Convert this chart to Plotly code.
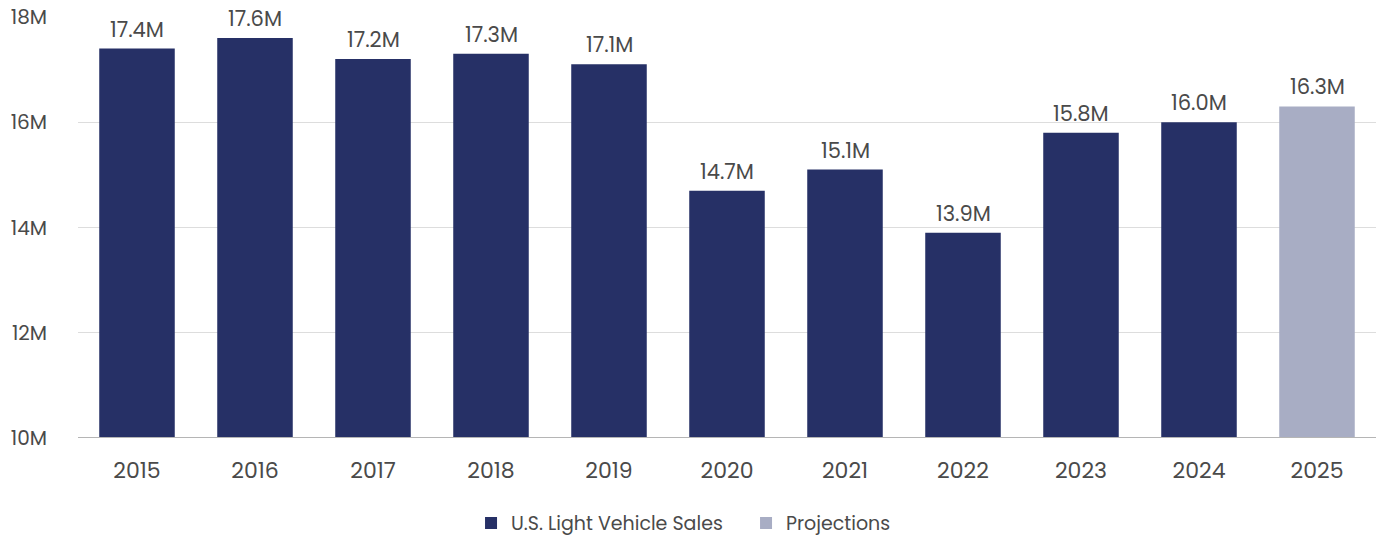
import plotly.graph_objects as go

years = ["2015", "2016", "2017", "2018", "2019", "2020", "2021", "2022", "2023", "2024"]
sales = [17.4, 17.6, 17.2, 17.3, 17.1, 14.7, 15.1, 13.9, 15.8, 16.0]
proj_years = ["2025"]
proj_sales = [16.3]
y_ticks = [10, 12, 14, 16, 18]
y_tick_text = [f"{t}M" for t in y_ticks]

font_family = "Poppins, Inter, 'Open Sans', sans-serif"
text_color = "#4a4a4a"
all_years = years + proj_years

fig = go.Figure()
fig.add_trace(go.Bar(
    x=years, y=sales, name="U.S. Light Vehicle Sales",
    marker=dict(color="#263066", line=dict(width=0)),
))
fig.add_trace(go.Bar(
    x=proj_years, y=proj_sales, name="Projections",
    marker=dict(color="#a8adc4", line=dict(width=0)),
))

# value labels above each bar (category axes place annotations by index)
for xs, ys in ((years, sales), (proj_years, proj_sales)):
    for x, v in zip(xs, ys):
        fig.add_annotation(x=all_years.index(x), y=v, text=f"{v:.1f}M",
                           showarrow=False, yanchor="bottom", yshift=3,
                           font=dict(size=21, color=text_color))

fig.update_layout(
    width=1380, height=536,
    margin=dict(l=78, r=4, t=17, b=98, autoexpand=False),
    barmode="overlay", bargap=0.36,
    plot_bgcolor="white", paper_bgcolor="white",
    font=dict(family=font_family, color=text_color),
    showlegend=True,
    legend=dict(orientation="h", x=0.3028, xanchor="left",
                yref="container", y=0.024, yanchor="middle",
                entrywidth=230, entrywidthmode="pixels", itemwidth=30,
                font=dict(size=19, color=text_color), traceorder="normal"),
    xaxis=dict(type="category", categoryorder="array",
               categoryarray=all_years, range=[-0.5, len(all_years) - 0.5],
               tickfont=dict(size=22, color=text_color), showgrid=False,
               ticklabelstandoff=17, showline=False),
    yaxis=dict(range=[10, 18], tickvals=y_ticks, ticktext=y_tick_text,
               tickfont=dict(size=20, color=text_color), showgrid=True,
               gridcolor="#dddddd", gridwidth=1, zeroline=False,
               ticklabelstandoff=30),
)
# baseline at 10M
fig.add_shape(type="line", xref="paper", yref="y", x0=0, x1=1, y0=10, y1=10,
              line=dict(color="#b5b5b5", width=2), layer="above")

fig.write_html("out.html")
